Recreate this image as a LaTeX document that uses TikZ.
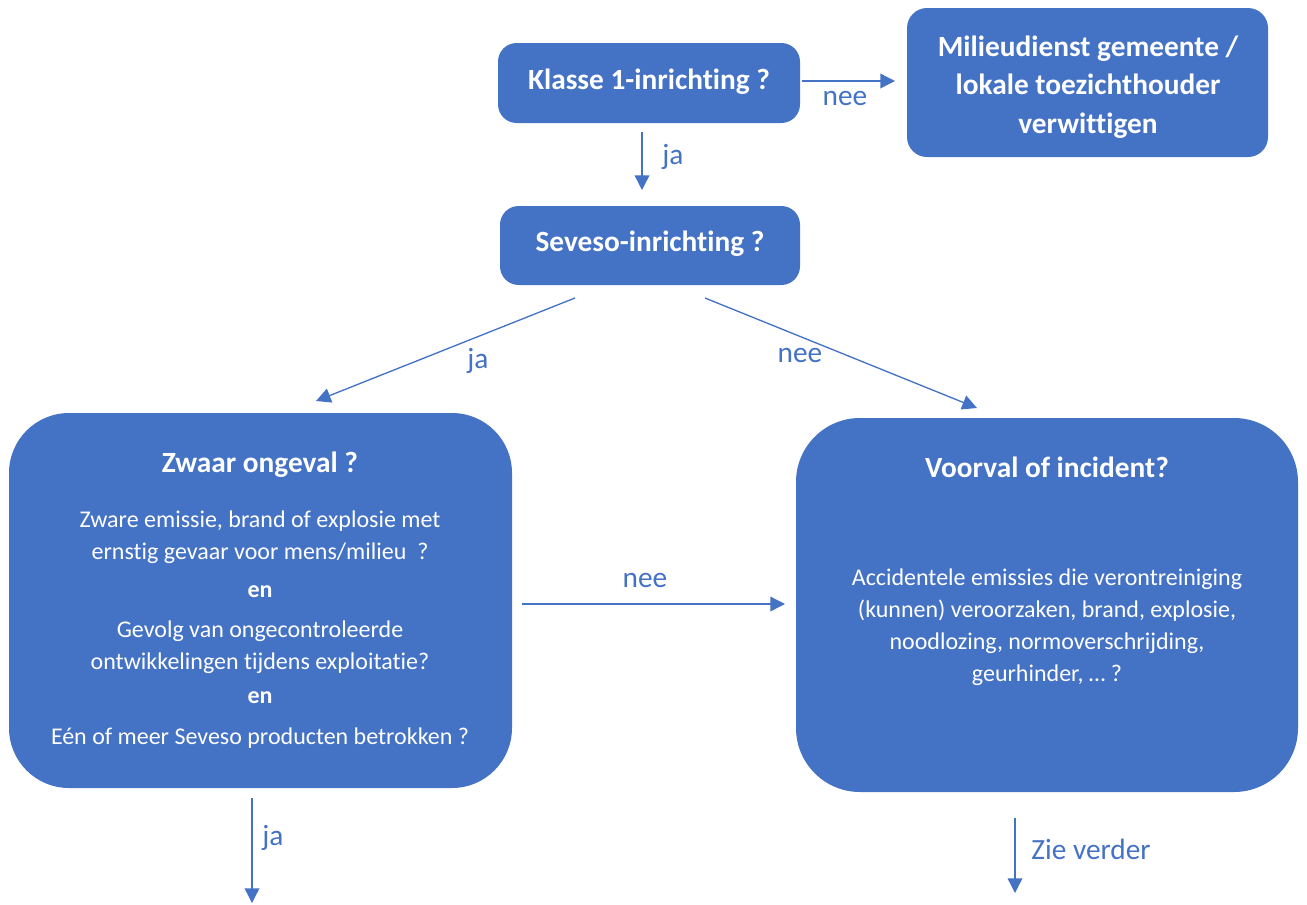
\documentclass[tikz,border=0pt]{standalone}
\usepackage{fontspec}
\setmainfont{Carlito}[Ligatures={NoCommon}]
\usetikzlibrary{arrows.meta}
\definecolor{obl}{HTML}{4472C4}
\begin{document}
\begin{tikzpicture}[x=0.75pt,y=-0.75pt,
  box/.style={fill=obl, draw=none, inner sep=0pt},
  ttl/.style={text=white, font=\fontsize{22}{29}\selectfont\bfseries, align=center, inner sep=0pt},
  body/.style={text=white, font=\fontsize{18}{24}\selectfont, align=center, inner sep=0pt},
  bodyb/.style={text=white, font=\fontsize{18}{24}\selectfont\bfseries, align=center, inner sep=0pt},
  lab/.style={text=obl, font=\fontsize{22}{26}\selectfont, inner sep=0pt},
  conn/.style={draw=obl, line width=1pt, -{Triangle[length=11pt,width=11pt]}}
]
\useasboundingbox (0,0) rectangle (1307,904);

% boxes
\node[box, rounded corners=14pt, minimum width={302*0.75pt}, minimum height={80*0.75pt}] (klasse) at (649,83) {};
\node[ttl] (klassetxt) at (649,82) {Klasse 1-inrichting ?};

\node[box, rounded corners=15pt, minimum width={361*0.75pt}, minimum height={149*0.75pt}] (milieu) at (1087.5,82.5) {};
\node[ttl] (milieutxt) at (1088,87) {Milieudienst gemeente /\\lokale toezichthouder\\verwittigen};

\node[box, rounded corners=14pt, minimum width={300*0.75pt}, minimum height={79*0.75pt}] (seveso) at (650,245.5) {};
\node[ttl] (sevesotxt) at (650,244) {Seveso-inrichting ?};

\node[box, rounded corners=45pt, minimum width={503*0.75pt}, minimum height={375*0.75pt}] (zwaar) at (260.5,600.5) {};
\node[ttl] (zwaart) at (260,465) {Zwaar ongeval ?};
\node[body] (zw1) at (260,537) {Zware emissie, brand of explosie met\\ernstig gevaar voor mens/milieu\ \ ?};
\node[bodyb] (zw2) at (260,592) {en};
\node[body] (zw3) at (260,647) {Gevolg van ongecontroleerde\\ontwikkelingen tijdens exploitatie?};
\node[bodyb] (zw4) at (260,698) {en};
\node[body] (zw5) at (260,738) {Eén of meer Seveso producten betrokken ?};

\node[box, rounded corners=48pt, minimum width={502*0.75pt}, minimum height={374*0.75pt}] (voorval) at (1047,605) {};
\node[ttl] (voorvalt) at (1047,467) {Voorval of incident?};
\node[body] (vv1) at (1047,627) {Accidentele emissies die verontreiniging\\(kunnen) veroorzaken, brand, explosie,\\noodlozing, normoverschrijding,\\geurhinder, … ?};

% connector end points
\coordinate (c1a) at (802,81);  \coordinate (c1b) at (895,81);
\coordinate (c2a) at (642,132); \coordinate (c2b) at (642,190);
\coordinate (c3a) at (575,298); \coordinate (c3b) at (316,401);
\coordinate (c4a) at (705,298); \coordinate (c4b) at (977,408);
\coordinate (c5a) at (522,604); \coordinate (c5b) at (785,604);
\coordinate (c6a) at (252,798); \coordinate (c6b) at (252,903);
\coordinate (c7a) at (1015,818); \coordinate (c7b) at (1015,893);

\draw[conn] (c1a) -- (c1b);
\draw[conn] (c2a) -- (c2b);
\draw[conn] (c3a) -- (c3b);
\draw[conn] (c4a) -- (c4b);
\draw[conn] (c5a) -- (c5b);
\draw[conn] (c6a) -- (c6b);
\draw[conn] (c7a) -- (c7b);

\node[lab] (l1) at (845,98) {nee};
\node[lab] (l2) at (673,157) {ja};
\node[lab] (l3) at (478,361) {ja};
\node[lab] (l4) at (800,355) {nee};
\node[lab] (l5) at (645,580) {nee};
\node[lab] (l6) at (273,838) {ja};
\node[lab] (l7) at (1091,849) {Zie verder};
\end{tikzpicture}
\end{document}
